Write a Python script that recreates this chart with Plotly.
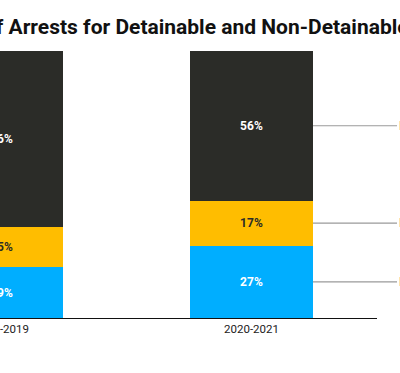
import plotly.graph_objects as go

categories = ["2018-2019", "2020-2021"]
series_names = ["Detainable - Violent", "Detainable - Other", "Non-Detainable"]
detainable_violent = [19, 27]
detainable_other = [15, 17]
non_detainable = [66, 56]
title_text = "Share of Arrests for Detainable and Non-Detainable Offenses"

series_values = [detainable_violent, detainable_other, non_detainable]
colors = ["#00AEFF", "#FFBD00", "#2B2C28"]
text_colors = ["#FFFFFF", "#2B2C28", "#FFFFFF"]
BAR_WIDTH = 0.492
FONT = "Roboto"

fig = go.Figure()
for name, vals, col, tcol in zip(series_names, series_values, colors, text_colors):
    fig.add_trace(go.Bar(
        x=categories, y=vals, name=name, width=BAR_WIDTH,
        marker=dict(color=col, line=dict(width=0)),
        text=[f"{v}%" for v in vals], textposition="inside",
        insidetextanchor="middle",
        textfont=dict(family=FONT, size=12, color=tcol, weight="bold"),
        hoverinfo="skip",
    ))

# right-side labels with leader lines (positions from last category's stack)
annotations = []
cum = 0
last = len(categories) - 1
for name, vals in zip(series_names, series_values):
    mid = cum + vals[last] / 2
    cum += vals[last]
    annotations.append(dict(
        x=last + BAR_WIDTH / 2, y=mid, xref="x", yref="y",
        text=name, showarrow=True, arrowhead=0, arrowwidth=1.2,
        arrowcolor="#9a9a9a", ax=88, ay=0, xanchor="left",
        standoff=0, startstandoff=0,
        font=dict(family=FONT, size=12, color="#222222"),
    ))

annotations.append(dict(
    x=-0.207, y=1.09, xref="paper", yref="paper", xanchor="left",
    yanchor="middle", showarrow=False, text=f"<b>{title_text}</b>",
    font=dict(family=FONT, size=21, color="#111111"),
))

fig.update_layout(
    width=400, height=373,
    margin=dict(l=0, r=23, t=51, b=55, autoexpand=False),
    barmode="stack",
    plot_bgcolor="white", paper_bgcolor="white",
    showlegend=False,
    annotations=annotations,
    xaxis=dict(range=[-0.006, 1.502], showline=True, linecolor="#111111",
               linewidth=1.2, ticks="", showgrid=False, zeroline=False,
               automargin=False, ticklabeloverflow="allow",
               tickfont=dict(family=FONT, size=11.5, color="#222222")),
    yaxis=dict(range=[0, 100], visible=False, showgrid=False, automargin=False),
)

fig.write_html("out.html", config={"displayModeBar": False},
               post_script="document.body.style.margin='0';document.body.style.overflow='hidden';")
